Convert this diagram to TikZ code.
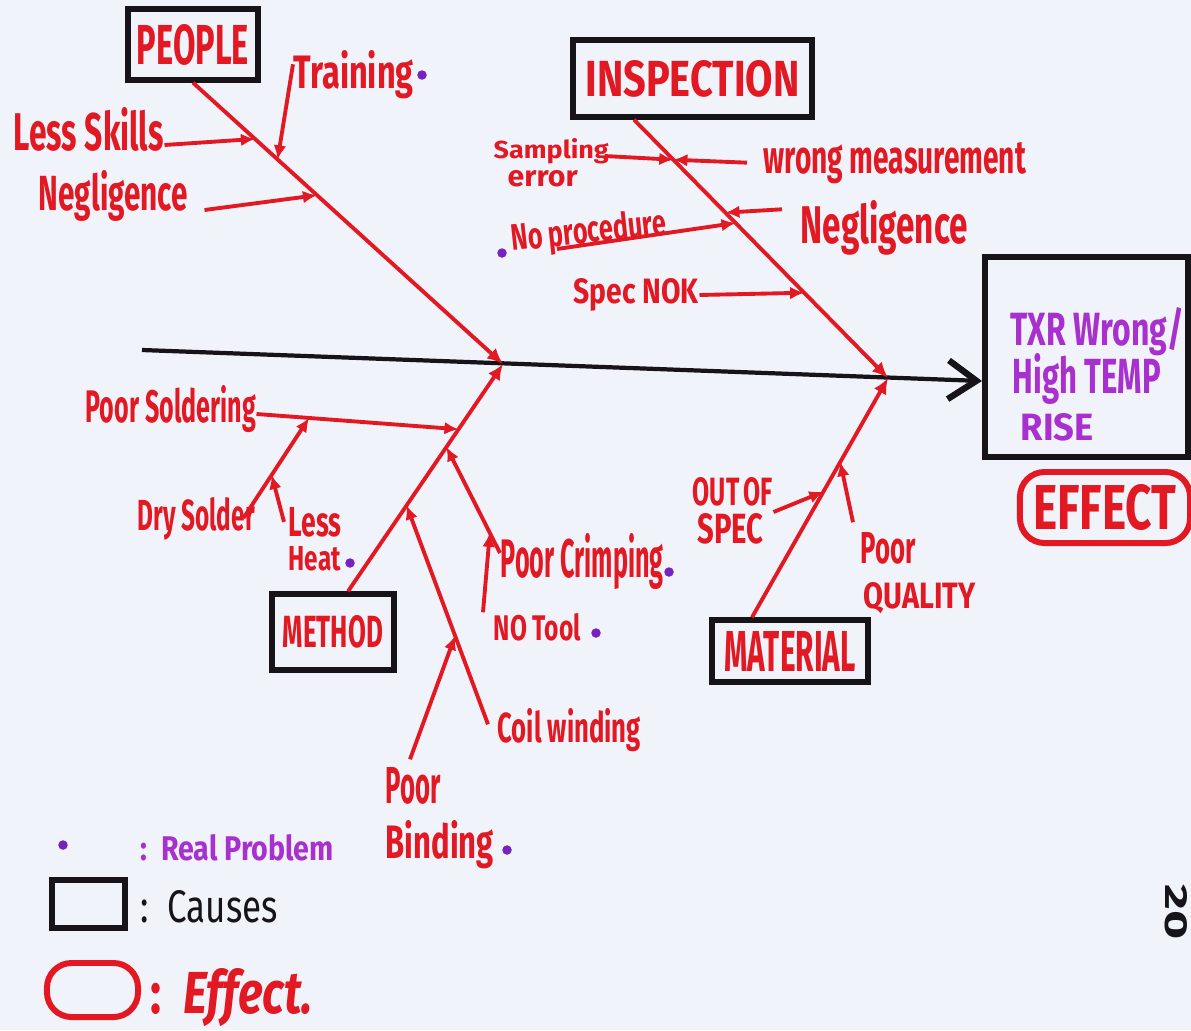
\documentclass[tikz,border=0pt]{standalone}
\usepackage{fontspec}
\setmainfont{Fira Sans}
\usetikzlibrary{arrows.meta}
% scale a label to a given width and height (both in cm)
\newcommand\hw[3]{\resizebox{#1cm}{#2cm}{#3}}
\definecolor{paper}{RGB}{241,243,250}
\definecolor{ink}{RGB}{226,24,34}
\definecolor{pen}{RGB}{22,20,24}
\definecolor{plum}{RGB}{168,48,206}
\definecolor{dotc}{RGB}{118,34,190}

\begin{document}
\begin{tikzpicture}[x=0.01cm,y=-0.01cm,
  lbl/.style={inner sep=0pt, anchor=base west, text=ink, font=\bfseries},
  causebox/.style={draw=pen, line width=1.5pt, inner sep=0pt, text=ink, font=\bfseries},
  effectbox/.style={draw=ink, line width=1.7pt, rounded corners=7pt, inner sep=0pt, text=ink, font=\bfseries},
  bone/.style={draw=ink, line width=1.1pt, -{Latex[length=4.5pt,width=4pt]}},
  twig/.style={draw=ink, line width=1.1pt, -{Latex[length=4pt,width=3.6pt]}},
  spine/.style={draw=pen, line width=1.2pt, -{Straight Barb[length=8pt,width=11pt,line width=1.8pt]}},
  rp/.style={circle, fill=dotc, inner sep=0pt, minimum size=0.095cm},
]
\fill[paper] (0,0) rectangle (1191,1030);
\useasboundingbox (0,0) rectangle (1191,1030);

% category boxes and the effect
\node[causebox, minimum width=1.30cm, minimum height=0.71cm] (people) at (193,44.5) {\hw{1.12}{0.40}{PEOPLE}};
\node[causebox, minimum width=2.39cm, minimum height=0.77cm] (inspection) at (692.5,78.5) {\hw{2.14}{0.36}{INSPECTION}};
\node[causebox, minimum width=1.22cm, minimum height=0.76cm] (method) at (333,632) {\hw{1.00}{0.32}{METHOD}};
\node[causebox, minimum width=1.56cm, minimum height=0.62cm] (material) at (790,651) {\hw{1.31}{0.40}{MATERIAL}};
\node[causebox, minimum width=2.03cm, minimum height=2.00cm] (effect) at (1086.5,357) {};
\node[effectbox, minimum width=1.70cm, minimum height=0.71cm] (effecttag) at (1105,507.5) {\hw{1.43}{0.45}{EFFECT}};

\node[lbl, text=plum] (eff1) at (1010,345) {\hw{1.73}{0.38}{TXR Wrong/}};
\node[lbl, text=plum] (eff2) at (1012,393) {\hw{1.48}{0.40}{High TEMP}};
\node[lbl, text=plum] (eff3) at (1020,440) {\hw{0.73}{0.27}{RISE}};

% spine
\coordinate (tail) at (142,350);
\coordinate (head) at (982,381);
\coordinate (hp) at (503,364);
\coordinate (hi) at (888,378);
\draw[spine] (tail) -- (head);

% main bones
\draw[bone] (people.south) -- (hp)
  coordinate[pos=0.2] (pLS) coordinate[pos=0.273] (pTR) coordinate[pos=0.40] (pNG);
\draw[bone] ([xshift=-0.585cm]inspection.south) -- (hi)
  coordinate[pos=0.155] (iSW) coordinate[pos=0.36] (iNG) coordinate[pos=0.40] (iNP) coordinate[pos=0.67] (iSN);
\draw[bone] ([xshift=0.15cm]method.north) -- (hp)
  coordinate[pos=0.713] (mPS) coordinate[pos=0.635] (mPC) coordinate[pos=0.378] (mCW);
\draw[bone] ([xshift=-0.38cm]material.north) -- (hi)
  coordinate[pos=0.525] (mOS) coordinate[pos=0.649] (mPQ);

% people causes
\node[lbl] (training) at (293,88) {\hw{1.20}{0.38}{Training}};
\node[rp] (dTR) at (422,75) {};
\draw[twig] ([yshift=-0.15cm]training.north west) -- (pTR);
\node[lbl] (lessskills) at (13,150) {\hw{1.50}{0.43}{Less Skills}};
\draw[twig] ([yshift=0.05cm]lessskills.base east) -- (pLS);
\node[lbl] (negp) at (38,210) {\hw{1.49}{0.40}{Negligence}};
\draw[twig] ([xshift=0.16cm]negp.base east) -- (pNG);

% inspection causes
\node[lbl] (samp) at (493,158) {\hw{1.15}{0.20}{Sampling}};
\node[lbl] (serr) at (507,186) {\hw{0.70}{0.16}{error}};
\draw[twig] ([xshift=-0.05cm,yshift=0.02cm]samp.base east) -- (iSW);
\node[lbl] (wm) at (763,173) {\hw{2.62}{0.31}{wrong measurement}};
\draw[twig] ([xshift=-0.16cm]wm.west) -- (iSW);
\node[lbl] (negi) at (800,243) {\hw{1.67}{0.43}{Negligence}};
\draw[twig] ([xshift=-0.18cm,yshift=-0.10cm]negi.north west) -- (iNG);
\node[lbl, rotate=6] (noproc) at (512,251) {\hw{1.55}{0.28}{No procedure}};
\node[rp] (dNP) at (502,253) {};
\draw[twig] ([xshift=0.45cm,yshift=0.02cm]noproc.base west) -- (iNP);
\node[lbl] (specnok) at (573,303) {\hw{1.25}{0.25}{Spec NOK}};
\draw[twig] ([yshift=0.08cm]specnok.base east) -- (iSN);

% method causes
\node[lbl] (psold) at (85,422) {\hw{1.70}{0.37}{Poor Soldering}};
\draw[twig] ([yshift=0.08cm]psold.base east) -- (mPS) coordinate[pos=0.26] (sDS);
\node[lbl] (dry) at (137,530) {\hw{1.17}{0.33}{Dry Solder}};
\draw[twig] ([xshift=-0.12cm,yshift=0.12cm]dry.base east) -- (sDS) coordinate[pos=0.43] (sLH);
\node[lbl] (lessa) at (288,536) {\hw{0.53}{0.29}{Less}};
\node[lbl] (heat) at (288,570) {\hw{0.52}{0.24}{Heat}};
\node[rp] (dLH) at (350,563) {};
\draw[twig] ([xshift=-0.04cm]lessa.west) -- (sLH);
\node[lbl] (pcrimp) at (500,577) {\hw{1.63}{0.44}{Poor Crimping}};
\node[rp] (dPC) at (669,572) {};
\draw[twig] ([yshift=0.24cm]pcrimp.base west) -- (mPC) coordinate[pos=0.19] (cNT);
\node[lbl] (notool) at (493,640) {\hw{0.87}{0.27}{NO Tool}};
\node[rp] (dNT) at (596,633) {};
\draw[twig] ([xshift=-0.10cm]notool.north west) -- (cNT);
\node[lbl] (coil) at (497,742) {\hw{1.43}{0.34}{Coil winding}};
\draw[twig] ([xshift=-0.09cm,yshift=-0.17cm]coil.north west) -- (mCW) coordinate[pos=0.404] (cPB);
\node[lbl] (poorb) at (385,803) {\hw{0.55}{0.36}{Poor}};
\node[lbl] (bind) at (385,858) {\hw{1.08}{0.38}{Binding}};
\node[rp] (dPB) at (507,850) {};
\draw[twig] ([xshift=0.25cm,yshift=0.07cm]poorb.north west) -- (cPB);

% material causes
\node[lbl] (outof) at (692,505) {\hw{0.80}{0.28}{OUT\,OF}};
\node[lbl] (spec) at (697,543) {\hw{0.66}{0.30}{SPEC}};
\draw[twig] ([yshift=-0.07cm]outof.base east) -- (mOS);
\node[lbl] (poorq) at (860,563) {\hw{0.55}{0.31}{Poor}};
\node[lbl] (quality) at (863,608) {\hw{1.12}{0.26}{QUALITY}};
\draw[twig] ([xshift=-0.07cm,yshift=0.09cm]poorq.north west) -- (mPQ);

% legend
\node[rp] (legdot) at (63,845) {};
\node[lbl, text=plum] (legrp) at (140,860) {\hw{1.93}{0.26}{:\ \ Real Problem}};
\node[causebox, minimum width=0.73cm, minimum height=0.48cm] (legbox) at (88.5,904) {};
\node[lbl, text=pen, font=\mdseries] (legc) at (140,922) {\hw{1.37}{0.32}{:\ \ Causes}};
\node[effectbox, minimum width=0.91cm, minimum height=0.54cm] (legeff) at (92.5,990) {};
\node[lbl] (lege) at (150,1013) {\hw{1.62}{0.45}{:\ \ \textit{Effect.}}};

% page number
\node[inner sep=0pt, rotate=-90, text=pen, font=\bfseries] (pageno) at (1176,912) {\hw{0.55}{0.22}{20}};
\end{tikzpicture}
\end{document}
